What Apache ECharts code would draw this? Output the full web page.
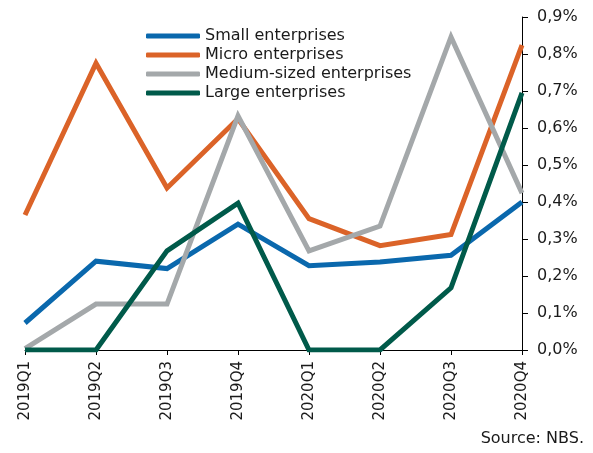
<!DOCTYPE html>
<html><head><meta charset="utf-8">
<script src="https://cdn.jsdelivr.net/npm/echarts@6/dist/echarts.min.js"></script>
<style>html,body{margin:0;padding:0;background:#fff}#c{width:593px;height:453px}</style>
</head><body><div id="c"></div>
<script>
const categories = ['2019Q1','2019Q2','2019Q3','2019Q4','2020Q1','2020Q2','2020Q3','2020Q4'];
const small  = [0.073, 0.240, 0.220, 0.340, 0.228, 0.238, 0.256, 0.400];
const micro  = [0.365, 0.775, 0.438, 0.625, 0.355, 0.282, 0.312, 0.824];
const medium = [0.004, 0.124, 0.124, 0.633, 0.268, 0.335, 0.846, 0.424];
const large  = [0.000, 0.000, 0.268, 0.397, 0.000, 0.000, 0.168, 0.695];
const yTicks = [0,0.1,0.2,0.3,0.4,0.5,0.6,0.7,0.8,0.9];
const names = ['Small enterprises','Micro enterprises','Medium-sized enterprises','Large enterprises'];
const colors = ['#0a68ad','#db6328','#a4a8aa','#005a4a'];
const font = 'DejaVu Sans, Verdana, sans-serif';
const chart = echarts.init(document.getElementById('c'));
const mk = (i, d) => ({
  name: names[i], type: 'line', data: d, symbol: 'none', showSymbol: false,
  lineStyle: {width: 5, color: colors[i], join: 'miter'}, itemStyle: {color: colors[i]}, z: 2 + i
});
chart.setOption({
  animation: false,
  grid: {left: 25, right: 71, top: 17, bottom: 103, containLabel: false},
  legend: {
    orient: 'vertical', left: 141, top: 23, itemWidth: 54, itemHeight: 5, itemGap: 3,
    icon: 'roundRect',
    textStyle: {fontFamily: font, fontSize: 16, color: '#1a1a1a'},
    data: names
  },
  xAxis: {
    type: 'category', data: categories, boundaryGap: false,
    axisLine: {lineStyle: {color: '#000', width: 1}},
    axisTick: {show: true, length: 5, lineStyle: {color: '#000'}},
    axisLabel: {rotate: 90, fontFamily: font, fontSize: 15, color: '#1a1a1a', margin: 11, interval: 0}
  },
  yAxis: {
    type: 'value', position: 'right', min: 0, max: 0.9, interval: 0.1,
    axisLine: {show: true, lineStyle: {color: '#000', width: 1}},
    axisTick: {show: true, length: 6, inside: false, lineStyle: {color: '#000'}},
    splitLine: {show: false},
    axisLabel: {fontFamily: font, fontSize: 16, color: '#1a1a1a', margin: 15,
      formatter: v => { const t = yTicks.find(x => Math.abs(x - v) < 1e-6); return (t !== undefined ? t : v).toFixed(1).replace('.', ',') + '%'; }}
  },
  graphic: [{type: 'text', right: 9, top: 431, style: {text: 'Source: NBS.', font: '16px ' + font, fill: '#1a1a1a'}}],
  series: [mk(0, small), mk(1, micro), mk(2, medium), mk(3, large)]
});
</script></body></html>
